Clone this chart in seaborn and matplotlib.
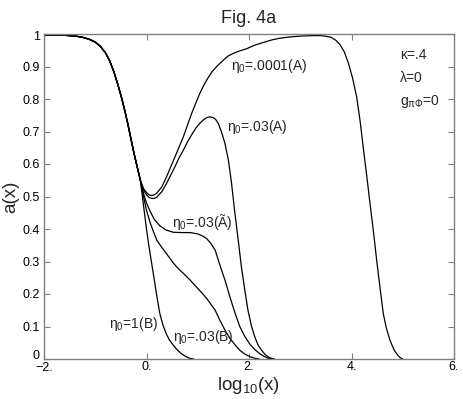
import numpy as np
import pandas as pd
import matplotlib
matplotlib.use("Agg")
import matplotlib.pyplot as plt
import matplotlib.transforms as mtransforms
import seaborn as sns

# ---- data ----
common_x = [-2.0, -1.8, -1.6, -1.4, -1.25, -1.12, -1.0, -0.9, -0.8, -0.72, -0.64, -0.56,
            -0.48, -0.42, -0.36, -0.30, -0.24, -0.18, -0.12]
common_y = [0.997, 0.997, 0.996, 0.994, 0.99, 0.984, 0.975, 0.962, 0.942, 0.918, 0.885, 0.845,
            0.80, 0.762, 0.72, 0.675, 0.63, 0.59, 0.55]

b1_x = [-0.08, -0.04, 0.0, 0.04, 0.07, 0.11, 0.146, 0.2, 0.26, 0.32, 0.39, 0.45, 0.52, 0.6,
        0.67, 0.72, 0.8, 0.85, 0.92]
b1_y = [0.50, 0.45, 0.40, 0.355, 0.325, 0.285, 0.25, 0.195, 0.14, 0.105, 0.076, 0.058, 0.043,
        0.028, 0.018, 0.012, 0.005, 0.002, 0.0]

b03_x = [-0.06, 0.0, 0.07, 0.14, 0.2, 0.3, 0.4, 0.52, 0.62, 0.73, 0.85, 1.0, 1.1, 1.17, 1.25,
         1.34, 1.43, 1.53, 1.63, 1.73, 1.82, 1.92, 2.02, 2.12, 2.2]
b03_y = [0.50, 0.458, 0.42, 0.39, 0.366, 0.343, 0.322, 0.296, 0.278, 0.262, 0.243, 0.217, 0.2,
         0.187, 0.17, 0.15, 0.12, 0.089, 0.063, 0.043, 0.027, 0.015, 0.007, 0.002, 0.0]

at_x = [-0.06, 0.0, 0.07, 0.15, 0.26, 0.38, 0.52, 0.7, 0.85, 1.0, 1.1, 1.17, 1.25, 1.34, 1.43,
        1.53, 1.63, 1.73, 1.82, 1.92, 2.02, 2.12, 2.22, 2.31, 2.38, 2.45]
at_y = [0.51, 0.48, 0.455, 0.43, 0.41, 0.397, 0.39, 0.389, 0.389, 0.385, 0.378, 0.371, 0.357,
        0.335, 0.29, 0.243, 0.19, 0.14, 0.10, 0.069, 0.045, 0.028, 0.015, 0.007, 0.002, 0.0]

a03_x = [-0.06, 0.0, 0.05, 0.1, 0.15, 0.2, 0.3, 0.39, 0.47, 0.55, 0.63, 0.72, 0.8, 0.9, 0.97,
         1.04, 1.12, 1.18, 1.24, 1.3, 1.35, 1.40, 1.46, 1.53, 1.60, 1.66, 1.72, 1.79, 1.85,
         1.92, 1.98, 2.05, 2.12, 2.18, 2.25, 2.32, 2.38, 2.44, 2.5]
a03_y = [0.52, 0.505, 0.497, 0.494, 0.494, 0.498, 0.515, 0.54, 0.565, 0.59, 0.617, 0.643, 0.668,
         0.695, 0.712, 0.725, 0.737, 0.743, 0.745, 0.743, 0.737, 0.725, 0.70, 0.664, 0.61, 0.54,
         0.455, 0.366, 0.285, 0.21, 0.15, 0.10, 0.065, 0.042, 0.026, 0.013, 0.006, 0.002, 0.0]

a0001_x = [-0.06, 0.0, 0.05, 0.1, 0.15, 0.2, 0.3, 0.39, 0.47, 0.55, 0.63, 0.72, 0.8, 0.88, 0.96,
           1.04, 1.12, 1.2, 1.28, 1.37, 1.5, 1.6, 1.69, 1.8, 1.96, 2.1, 2.3, 2.45, 2.6, 2.8,
           3.05, 3.25, 3.4, 3.5, 3.6, 3.7, 3.78, 3.86, 3.94, 4.02, 4.10, 4.17, 4.23, 4.3, 4.36,
           4.43, 4.49, 4.56, 4.62, 4.68, 4.75, 4.83, 4.91, 4.96, 5.0]
a0001_y = [0.525, 0.512, 0.505, 0.503, 0.505, 0.51, 0.53, 0.56, 0.59, 0.62, 0.65, 0.684, 0.72,
           0.755, 0.787, 0.817, 0.843, 0.865, 0.884, 0.90, 0.92, 0.933, 0.94, 0.947, 0.955,
           0.965, 0.975, 0.982, 0.987, 0.991, 0.994, 0.995, 0.995, 0.993, 0.99, 0.98, 0.966,
           0.945, 0.91, 0.865, 0.807, 0.73, 0.65, 0.56, 0.48, 0.39, 0.305, 0.215, 0.14, 0.095,
           0.058, 0.028, 0.01, 0.003, 0.0]

series = {
    "eta1_B": (b1_x, b1_y),
    "eta03_B": (b03_x, b03_y),
    "eta03_At": (at_x, at_y),
    "eta03_A": (a03_x, a03_y),
    "eta0001_A": (a0001_x, a0001_y),
}

xticks = [-2, 0, 2, 4, 6]
xticklabels = ["\u22122.", "0.", "2.", "4.", "6."]
yticks = [0, 0.1, 0.2, 0.3, 0.4, 0.5, 0.6, 0.7, 0.8, 0.9, 1.0]
yticklabels = ["0", "0.1", "0.2", "0.3", "0.4", "0.5", "0.6", "0.7", "0.8", "0.9", "1"]

rows = []
for name, (xs, ys) in series.items():
    for x, y in zip(common_x + xs, common_y + ys):
        rows.append({"series": name, "x": x, "y": y})
df = pd.DataFrame(rows)

# ---- styling ----
sns.set_style("ticks")
plt.rcParams["font.family"] = ["Liberation Sans", "DejaVu Sans"]
plt.rcParams["mathtext.fontset"] = "custom"
plt.rcParams["mathtext.rm"] = "Liberation Sans"
plt.rcParams["mathtext.it"] = "Liberation Sans:italic"
plt.rcParams["mathtext.bf"] = "Liberation Sans:bold"

fig = plt.figure(figsize=(4.63, 3.99), dpi=100)
ax = fig.add_axes([44 / 463, 40 / 399, 410 / 463, 325 / 399])

sns.lineplot(data=df, x="x", y="y", hue="series", palette=["black"] * 5,
             estimator=None, sort=False, legend=False, linewidth=0.9, ax=ax)

ax.set_xlim(-2, 6)
ax.set_ylim(0, 1)
ax.set_xticks(xticks)
ax.set_xticklabels(xticklabels)
ax.set_yticks(yticks)
ax.set_yticklabels(yticklabels)

gray = "#808080"
for s in ax.spines.values():
    s.set_color(gray)
    s.set_linewidth(1.0)
ax.tick_params(direction="in", top=True, right=True, length=4, width=0.8,
               color=gray, labelsize=9, labelcolor="black")
ax.tick_params(axis="x", pad=1.5)
ax.tick_params(axis="y", pad=3)

# nudge the end labels inward, as in the reference
def shift(lab, dx, dy):
    lab.set_transform(lab.get_transform() +
                      mtransforms.ScaledTranslation(dx / 100, dy / 100, fig.dpi_scale_trans))

ylabs = ax.get_yticklabels()
shift(ylabs[0], 0, 4.5)
shift(ylabs[-1], 0, -2)
xlabs = ax.get_xticklabels()
shift(xlabs[0], 0, -1)

ax.set_title("Fig. 4a", fontsize=13, pad=8)
ax.set_xlabel(r"log$_{10}$(x)", fontsize=13.5)
ax.set_ylabel("a(x)", fontsize=13.5)
ax.xaxis.set_label_coords(0.5, -0.05)
ax.yaxis.set_label_coords(-0.06, 0.5)

fs = 10
ax.text(1.649, 0.889, "\u03b7$_0$=.0001(A)", fontsize=fs, va="baseline")
ax.text(1.57, 0.70, "\u03b7$_0$=.03(A)", fontsize=fs, va="baseline")
ax.text(0.49, 0.407, "\u03b7$_0$=.03(\u00c3)", fontsize=fs, va="baseline")
ax.text(-0.732, 0.095, "\u03b7$_0$=1(B)", fontsize=fs, va="baseline")
ax.text(0.51, 0.055, "\u03b7$_0$=.03(B)", fontsize=fs, va="baseline")
ax.text(4.946, 0.923, "\u03ba=.4", fontsize=fs, va="baseline")
ax.text(4.946, 0.852, "\u03bb=0", fontsize=fs, va="baseline")
ax.text(4.946, 0.78, r"g$_{\mathrm{\pi\Phi}}$=0", fontsize=fs, va="baseline")

fig.savefig("out.png", dpi=100)
